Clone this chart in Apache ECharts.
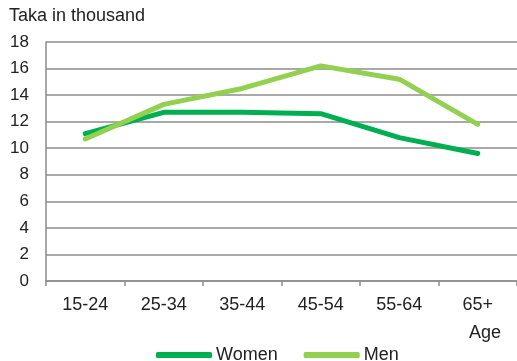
<!DOCTYPE html>
<html>
<head>
<meta charset="utf-8">
<script src="https://cdn.jsdelivr.net/npm/echarts@6/dist/echarts.min.js"></script>
<style>
  html, body { margin: 0; padding: 0; background: #fff; }
  #chart { width: 517px; height: 361px; }
</style>
</head>
<body>
<div id="chart"></div>
<script>
// age groups and monthly income (Taka in thousand)
var ageGroups = ['15-24', '25-34', '35-44', '45-54', '55-64', '65+'];
var women = [11.1, 12.7, 12.7, 12.6, 10.8, 9.6];
var men = [10.7, 13.3, 14.5, 16.2, 15.2, 11.8];

var font = 'Liberation Sans, Arial, sans-serif';
var gridColor = '#8c8c8c';

var chart = echarts.init(document.getElementById('chart'));
chart.setOption({
  animation: false,
  textStyle: { fontFamily: font },
  graphic: [
    {
      type: 'text', left: 9, top: 7,
      style: { text: 'Taka in thousand', fontSize: 18, fill: '#222', fontFamily: font }
    },
    {
      type: 'text', left: 469, top: 324,
      style: { text: 'Age', fontSize: 18, fill: '#222', fontFamily: font }
    }
  ],
  legend: {
    top: 341,
    left: 151,
    itemWidth: 56,
    itemHeight: 6,
    itemGap: 26,
    icon: 'roundRect',
    textStyle: { fontSize: 18, color: '#222', fontFamily: font, padding: [0, 0, 0, -1] },
    data: ['Women', 'Men']
  },
  grid: { left: 46, right: 0, top: 42, bottom: 80 },
  xAxis: {
    type: 'category',
    data: ageGroups,
    boundaryGap: true,
    axisLine: { lineStyle: { color: gridColor, width: 1.5 } },
    axisTick: { show: true, length: 5, lineStyle: { color: gridColor, width: 1.5 } },
    axisLabel: { fontSize: 18, color: '#222', margin: 15 }
  },
  yAxis: {
    type: 'value',
    min: 0,
    max: 18,
    interval: 2,
    axisLine: { show: true, lineStyle: { color: gridColor, width: 1.5 } },
    axisTick: { show: false },
    splitLine: { lineStyle: { color: gridColor, width: 1.5 } },
    axisLabel: { fontSize: 17, color: '#222', margin: 17 }
  },
  series: [
    {
      name: 'Women',
      type: 'line',
      data: women,
      symbol: 'none',
      itemStyle: { color: '#00b050' },
      lineStyle: { color: '#00b050', width: 5, cap: 'round' }
    },
    {
      name: 'Men',
      type: 'line',
      data: men,
      symbol: 'none',
      itemStyle: { color: '#92d050' },
      lineStyle: { color: '#92d050', width: 5, cap: 'round' }
    }
  ]
});
</script>
</body>
</html>
